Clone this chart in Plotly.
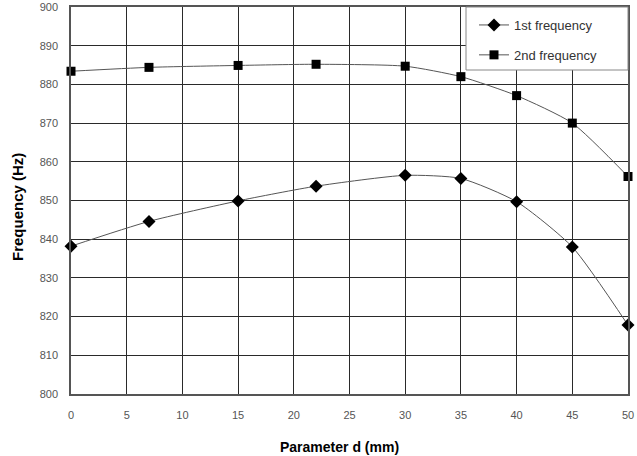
import plotly.graph_objects as go

d_mm = [0, 7, 15, 22, 30, 35, 40, 45, 50]
freq1 = [838.2, 844.6, 849.9, 853.7, 856.5, 855.7, 849.7, 838.0, 817.8]
freq2 = [883.4, 884.4, 884.9, 885.2, 884.7, 882.0, 877.1, 870.0, 856.2]
series_names = ["1st frequency", "2nd frequency"]
x_ticks = list(range(0, 51, 5))
y_ticks = list(range(800, 901, 10))

FONT = "Liberation Sans, Arial, sans-serif"
L, R, T, B = 71, 9, 7, 62
W, H = 637, 456
PW, PH = W - L - R, H - T - B

fig = go.Figure()
fig.add_trace(go.Scatter(
    x=d_mm, y=freq1, name=series_names[0], mode="lines+markers",
    line=dict(color="#555555", width=1, shape="spline", smoothing=0.6),
    marker=dict(symbol="diamond", size=10, color="black"),
    legendgroup="a", cliponaxis=False))
fig.add_trace(go.Scatter(
    x=d_mm, y=freq2, name=series_names[1], mode="lines+markers",
    line=dict(color="#555555", width=1, shape="spline", smoothing=0.6),
    marker=dict(symbol="square", size=9, color="black"),
    legendgroup="b", cliponaxis=False))

axis_common = dict(
    showgrid=True, gridcolor="#2a2a2a", gridwidth=1,
    showline=True, linecolor="#555555", linewidth=1.5, mirror=True,
    zeroline=False, ticks="", automargin=False,
    tickfont=dict(family=FONT, size=11, color="#555555"),
)
fig.update_xaxes(range=[0, 50], tickvals=x_ticks, ticklabelstandoff=10, **axis_common)
fig.update_yaxes(range=[800, 900], tickvals=y_ticks, ticklabelstandoff=9, **axis_common)

# axis titles
fig.add_annotation(text="<b>Parameter d (mm)</b>", xref="paper", yref="paper",
                   x=(339 - L) / PW, y=-(447 - (T + PH)) / PH, xanchor="center", yanchor="middle",
                   showarrow=False, font=dict(family=FONT, size=14, color="black"))
fig.add_annotation(text="<b>Frequency (Hz)</b>", xref="paper", yref="paper",
                   x=-(L - 18) / PW, y=1 - (207 - T) / PH, xanchor="center", yanchor="middle",
                   textangle=-90, showarrow=False, font=dict(family=FONT, size=15, color="black"))

# legend frame
fig.add_shape(type="rect", xref="paper", yref="paper",
              x0=(466 - L) / PW, x1=1.0, y0=1 - (70 - T) / PH, y1=1.0,
              fillcolor="white", line=dict(color="#888888", width=1), layer="above")

fig.update_layout(
    width=W, height=H,
    margin=dict(l=L, r=R, t=T, b=B, autoexpand=False),
    plot_bgcolor="white", paper_bgcolor="white",
    font=dict(family=FONT, color="#333333"),
    legend=dict(x=(474 - L) / PW, y=1 - (10 - T) / PH, xanchor="left", yanchor="top",
                bgcolor="rgba(0,0,0,0)", borderwidth=0,
                font=dict(family=FONT, size=13, color="#333333"),
                traceorder="grouped", tracegroupgap=10, itemwidth=30),
    showlegend=True,
)

fig.write_html("out.html")
